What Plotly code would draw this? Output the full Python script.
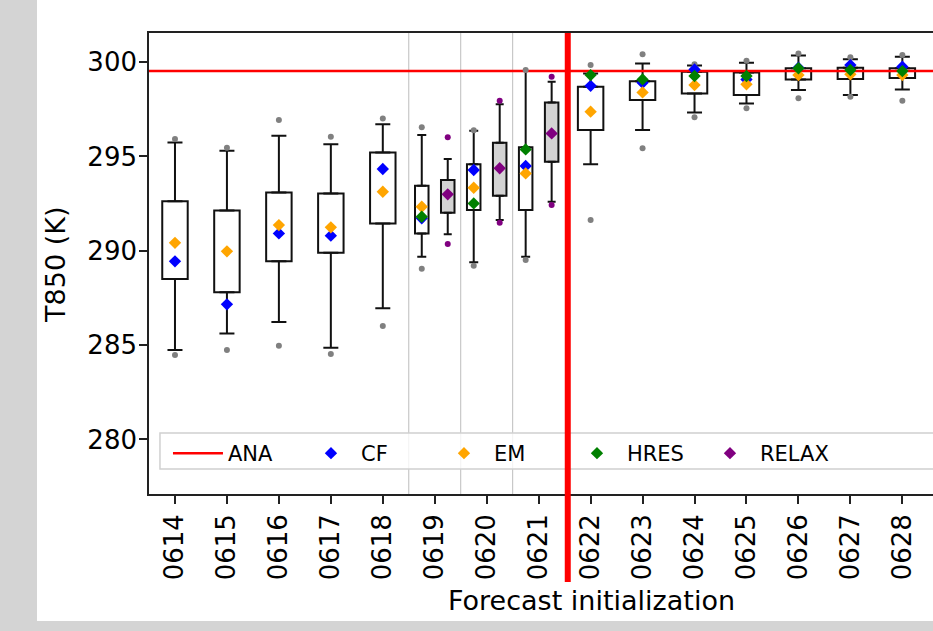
import plotly.graph_objects as go
import numpy as np

# ---------------- data ----------------
dates = ["0614", "0615", "0616", "0617", "0618", "0619", "0620", "0621",
         "0622", "0623", "0624", "0625", "0626", "0627", "0628"]
relax_dates = ["0619", "0620", "0621"]
ana = 299.52

ens_q1 = [288.50, 287.80, 289.44, 289.89, 291.45, 290.92, 292.16, 292.16,
          296.40, 297.99, 298.34, 298.25, 299.07, 299.10, 299.15]
ens_q3 = [292.63, 292.14, 293.09, 293.04, 295.21, 293.45, 294.59, 295.48,
          298.69, 298.98, 299.49, 299.45, 299.67, 299.70, 299.67]
ens_lo = [284.74, 285.62, 286.22, 284.86, 286.96, 289.68, 289.39, 289.68,
          294.59, 296.40, 297.33, 297.81, 298.52, 298.25, 298.55]
ens_hi = [295.74, 295.30, 296.10, 295.64, 296.71, 296.13, 296.36, 299.52,
          299.40, 299.93, 299.82, 299.96, 300.35, 300.15, 300.28]
ens_flier_hi = [295.92, 295.46, 296.93, 296.04, 297.01, 296.54, 296.38, 299.58,
                299.84, 300.42, 299.89, 300.07, 300.45, 300.25, 300.37]
ens_flier_lo = [284.47, 284.74, 284.97, 284.53, 286.01, 289.05, 289.21, 289.51,
                291.63, 295.43, 297.07, 297.55, 298.08, 298.16, 297.95]

cf = [289.44, 287.16, 290.92, 290.80, 294.33, 291.72, 294.28, 294.49,
      298.74, 298.90, 299.61, 299.08, 299.70, 299.84, 299.75]
em = [290.42, 289.97, 291.36, 291.24, 293.13, 292.33, 293.34, 294.10,
      297.37, 298.39, 298.78, 298.82, 299.31, 299.35, 299.31]
hres = [None, None, None, None, None, 291.80, 292.51, 295.37,
        299.31, 299.08, 299.26, 299.26, 299.67, 299.58, 299.52]

relax_q1 = [292.01, 292.91, 294.72]
relax_q3 = [293.75, 295.72, 297.86]
relax_lo = [290.87, 291.63, 292.60]
relax_hi = [294.86, 297.76, 298.96]
relax_flier_hi = [296.01, 297.95, 299.22]
relax_flier_lo = [290.36, 291.48, 292.42]
relax_mean = [292.99, 294.37, 296.22]

split_between = ["0618", "0619", "0620", "0621"]   # thin grey separators between these
ana_marker_pos = 7.56                               # red vertical marker (between 0621 and 0622)

# ---------------- positions ----------------
idx = {d: i for i, d in enumerate(dates)}
narrow = np.array([d in relax_dates for d in dates])
ens_x = np.array([i - 0.25 if n else float(i) for i, n in enumerate(narrow)])
ens_w = np.where(narrow, 0.26, 0.49)
relax_x = np.array([idx[d] + 0.25 for d in relax_dates])

q1 = np.array(ens_q1); q3 = np.array(ens_q3)
lo = np.array(ens_lo); hi = np.array(ens_hi)
rq1 = np.array(relax_q1); rq3 = np.array(relax_q3)
rlo = np.array(relax_lo); rhi = np.array(relax_hi)

BLACK = "#111111"
fig = go.Figure()

# box bodies
fig.add_trace(go.Bar(x=ens_x, base=q1, y=q3 - q1, width=ens_w,
                     marker=dict(color="white", line=dict(color=BLACK, width=2)),
                     showlegend=False, hoverinfo="skip"))
fig.add_trace(go.Bar(x=relax_x, base=rq1, y=rq3 - rq1, width=0.26,
                     marker=dict(color="#d3d3d3", line=dict(color=BLACK, width=2)),
                     showlegend=False, hoverinfo="skip"))


def whiskers(xs, q1s, q3s, los, his, capw):
    n = len(xs)
    return go.Scatter(
        x=np.concatenate([xs, xs]), y=np.concatenate([q3s, q1s]),
        mode="markers", marker=dict(size=1, color="rgba(0,0,0,0)"),
        error_y=dict(type="data", symmetric=False,
                     array=np.concatenate([his - q3s, np.zeros(n)]),
                     arrayminus=np.concatenate([np.zeros(n), q1s - los]),
                     color=BLACK, thickness=2, width=capw),
        showlegend=False, hoverinfo="skip")


wide = ~narrow
fig.add_trace(whiskers(ens_x[wide], q1[wide], q3[wide], lo[wide], hi[wide], 7.5))
fig.add_trace(whiskers(ens_x[narrow], q1[narrow], q3[narrow], lo[narrow], hi[narrow], 4.5))
fig.add_trace(whiskers(relax_x, rq1, rq3, rlo, rhi, 4.0))

# analysis line
fig.add_trace(go.Scatter(x=[-1, len(dates) + 1], y=[ana, ana], mode="lines",
                         line=dict(color="red", width=2.5), name="ANA", legendrank=1))

# fliers
fig.add_trace(go.Scatter(x=np.concatenate([ens_x, ens_x]),
                         y=ens_flier_hi + ens_flier_lo, mode="markers",
                         marker=dict(color="#808080", size=6), showlegend=False, hoverinfo="skip"))
fig.add_trace(go.Scatter(x=np.concatenate([relax_x, relax_x]),
                         y=relax_flier_hi + relax_flier_lo, mode="markers",
                         marker=dict(color="purple", size=6), showlegend=False, hoverinfo="skip"))

dia = dict(symbol="diamond", size=9.5)
fig.add_trace(go.Scatter(x=ens_x, y=cf, mode="markers", name="CF", legendrank=2,
                         marker=dict(color="blue", **dia)))
fig.add_trace(go.Scatter(x=ens_x, y=em, mode="markers", name="EM", legendrank=3,
                         marker=dict(color="orange", **dia)))
fig.add_trace(go.Scatter(x=ens_x, y=hres, mode="markers", name="HRES", legendrank=4,
                         marker=dict(color="green", **dia)))
fig.add_trace(go.Scatter(x=relax_x, y=relax_mean, mode="markers", name="RELAX", legendrank=5,
                         marker=dict(color="purple", **dia)))

# ---------------- shapes ----------------
shapes = []
# grey background strips of the original image
shapes.append(dict(type="rect", xref="paper", yref="paper", x0=-0.5, x1=-0.14286,
                   y0=-0.5, y1=1.5, fillcolor="#d4d4d4", line=dict(width=0), layer="below"))
shapes.append(dict(type="rect", xref="paper", yref="paper", x0=-0.5, x1=1.5,
                   y0=-0.5, y1=-0.2755, fillcolor="#d4d4d4", line=dict(width=0), layer="below"))
# separators
for a, b in zip(split_between[:-1], split_between[1:]):
    xv = (idx[a] + idx[b]) / 2
    shapes.append(dict(type="line", xref="x", yref="paper", x0=xv, x1=xv, y0=0, y1=1,
                       line=dict(color="#bdbdbd", width=1), layer="below"))
# legend frame
shapes.append(dict(type="rect", xref="paper", yref="paper", x0=0.014, x1=1.05,
                   y0=0.0542, y1=0.1323, fillcolor="rgba(255,255,255,0.8)",
                   line=dict(color="#d0d0d0", width=1.5), layer="above"))
# red vertical marker
shapes.append(dict(type="line", xref="x", yref="paper", x0=ana_marker_pos, x1=ana_marker_pos,
                   y0=-0.191, y1=1, line=dict(color="red", width=6), layer="above"))

fig.update_layout(
    width=933, height=631,
    margin=dict(l=149, r=0, t=33, b=137, pad=0),
    paper_bgcolor="white", plot_bgcolor="white",
    font=dict(family="DejaVu Sans", size=26, color="black"),
    barmode="overlay",
    showlegend=True,
    shapes=shapes,
    legend=dict(orientation="h", x=0.0242, y=0.1323, xanchor="left", yanchor="top",
                bgcolor="rgba(0,0,0,0)", borderwidth=0, font=dict(size=21),
                itemwidth=50, entrywidth=68, entrywidthmode="pixels"),
    annotations=[
        dict(text="Forecast initialization", xref="paper", yref="paper", x=0.564, y=-0.232,
             xanchor="center", yanchor="middle", showarrow=False, font=dict(size=27)),
        dict(text="T850 (K)", xref="paper", yref="paper", x=-0.1186, y=0.497,
             xanchor="center", yanchor="middle", textangle=-90, showarrow=False,
             font=dict(size=27)),
    ],
)
fig.update_xaxes(range=[-0.5, 14.59], tickmode="array", tickvals=list(range(len(dates))),
                 ticktext=dates, tickangle=-90, ticks="outside", ticklen=8, tickwidth=1.5,
                 tickcolor="#222222", showline=True, linecolor="#222222", linewidth=1.6,
                 mirror=True, showgrid=False, zeroline=False)
fig.update_yaxes(range=[277.11, 301.54], tickmode="array", tickvals=[280, 285, 290, 295, 300],
                 ticks="outside", ticklen=8, tickwidth=1.5, tickcolor="#222222",
                 showline=True, linecolor="#222222", linewidth=1.6, showgrid=False,
                 zeroline=False, ticklabelstandoff=-3)

fig.write_html("out.html", config={"displayModeBar": False},
               post_script="document.body.style.margin='0';document.body.style.overflow='hidden';")
